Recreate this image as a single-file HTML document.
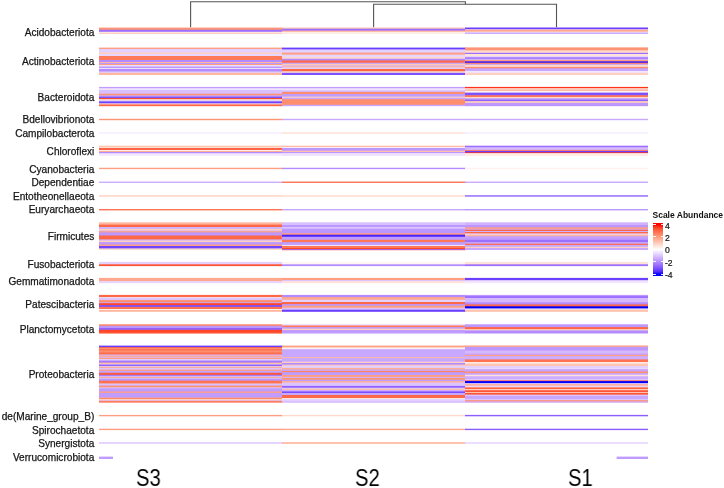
<!DOCTYPE html>
<html><head><meta charset="utf-8">
<style>
html,body{margin:0;padding:0;background:#fff;}
body{width:724px;height:488px;position:relative;overflow:hidden;font-family:"Liberation Sans",sans-serif;}
.b{position:absolute;}
#hm{position:absolute;left:0;top:0;}
.lab{position:absolute;left:0;width:94.3px;text-align:right;font-size:10.1px;line-height:12px;height:12px;color:#151515;-webkit-text-stroke:0.25px #151515;white-space:nowrap;}
.sl{position:absolute;will-change:transform;font-size:23.3px;line-height:28px;color:#000;transform-origin:0 0;transform:scaleX(0.87);white-space:nowrap;}
#lgt{position:absolute;left:652.5px;top:209px;font-size:8.5px;font-weight:bold;line-height:12px;color:#111;white-space:nowrap;}
#bar{position:absolute;left:653px;top:222.6px;width:10px;height:53.4px;background:linear-gradient(to bottom,#ff0000 3.18%,#ff4628 9.05%,#ff6846 14.91%,#ff8464 20.77%,#ff9e81 26.64%,#ffb7a0 32.50%,#ffcfbf 38.37%,#ffe7de 44.23%,#ffffff 50.09%,#eee2ff 55.96%,#dcc4ff 61.82%,#c8a8ff 67.68%,#b38bff 73.55%,#9b6fff 79.41%,#7e52ff 85.28%,#5932ff 91.14%,#0000ff 97.00%);}
.tk{position:absolute;height:1px;width:2.5px;background:#fff;opacity:0.9;}
.tl{position:absolute;left:665px;font-size:8.6px;line-height:10px;color:#111;-webkit-text-stroke:0.2px #111;white-space:nowrap;}
</style></head><body>
<svg style="position:absolute;left:0;top:0" width="724" height="30">
<g stroke="#555" stroke-width="1.1" fill="none">
<path d="M190.6 27.2 V1.7 H465.4 V4.3"/>
<path d="M373.6 27.2 V4.3 H556.5 V27.2"/>
</g>
</svg>
<svg id="hm" width="724" height="488" viewBox="0 0 724 488">
<g>
<rect x="99.00" y="27.60" width="183.60" height="3.20" fill="#ff9475"/>
<rect x="99.00" y="29.80" width="183.60" height="3.00" fill="#9b6fff"/>
<rect x="99.00" y="31.80" width="183.60" height="2.00" fill="#ffece5"/>
<rect x="99.00" y="32.80" width="183.60" height="1.20" fill="#ffcfbf"/>
<rect x="99.00" y="47.60" width="183.60" height="2.40" fill="#ff9e81"/>
<rect x="99.00" y="49.00" width="183.60" height="4.50" fill="#e3d0ff"/>
<rect x="99.00" y="52.50" width="183.60" height="2.50" fill="#ffcfbf"/>
<rect x="99.00" y="54.00" width="183.60" height="3.00" fill="#e7d6ff"/>
<rect x="99.00" y="56.00" width="183.60" height="5.00" fill="#ff7958"/>
<rect x="99.00" y="60.00" width="183.60" height="3.00" fill="#b38bff"/>
<rect x="99.00" y="62.00" width="183.60" height="2.00" fill="#ffb7a0"/>
<rect x="99.00" y="63.00" width="183.60" height="2.00" fill="#bc97ff"/>
<rect x="99.00" y="64.00" width="183.60" height="2.00" fill="#ff9e81"/>
<rect x="99.00" y="65.00" width="183.60" height="2.60" fill="#ebdcff"/>
<rect x="99.00" y="66.60" width="183.60" height="2.40" fill="#bc97ff"/>
<rect x="99.00" y="68.00" width="183.60" height="2.00" fill="#eee2ff"/>
<rect x="99.00" y="69.00" width="183.60" height="3.50" fill="#b38bff"/>
<rect x="99.00" y="71.50" width="183.60" height="2.30" fill="#e3d0ff"/>
<rect x="99.00" y="72.80" width="183.60" height="2.20" fill="#ffb7a0"/>
<rect x="99.00" y="86.90" width="183.60" height="2.30" fill="#c09cff"/>
<rect x="99.00" y="88.20" width="183.60" height="2.80" fill="#eee2ff"/>
<rect x="99.00" y="90.00" width="183.60" height="4.70" fill="#d8bfff"/>
<rect x="99.00" y="93.70" width="183.60" height="2.60" fill="#ff9475"/>
<rect x="99.00" y="95.30" width="183.60" height="2.30" fill="#c8a8ff"/>
<rect x="99.00" y="96.60" width="183.60" height="2.50" fill="#7e52ff"/>
<rect x="99.00" y="98.10" width="183.60" height="1.90" fill="#ff4628"/>
<rect x="99.00" y="99.00" width="183.60" height="2.30" fill="#ffcfbf"/>
<rect x="99.00" y="100.30" width="183.60" height="2.10" fill="#e3d0ff"/>
<rect x="99.00" y="101.40" width="183.60" height="2.90" fill="#6a3fff"/>
<rect x="99.00" y="103.30" width="183.60" height="2.10" fill="#ffded2"/>
<rect x="99.00" y="104.40" width="183.60" height="1.80" fill="#ff6846"/>
<rect x="99.00" y="118.80" width="183.60" height="1.40" fill="#ff9475"/>
<rect x="99.00" y="132.30" width="183.60" height="1.40" fill="#f5edff"/>
<rect x="99.00" y="145.70" width="183.60" height="2.50" fill="#ffc6b2"/>
<rect x="99.00" y="147.20" width="183.60" height="1.90" fill="#ffe2d8"/>
<rect x="99.00" y="148.10" width="183.60" height="2.80" fill="#ff5434"/>
<rect x="99.00" y="149.90" width="183.60" height="2.00" fill="#fff5f2"/>
<rect x="99.00" y="150.90" width="183.60" height="2.10" fill="#ffad93"/>
<rect x="99.00" y="152.00" width="183.60" height="2.10" fill="#b38bff"/>
<rect x="99.00" y="153.10" width="183.60" height="2.10" fill="#ebdcff"/>
<rect x="99.00" y="154.20" width="183.60" height="1.80" fill="#f5edff"/>
<rect x="99.00" y="167.75" width="183.60" height="1.40" fill="#ff9e81"/>
<rect x="99.00" y="181.55" width="183.60" height="1.40" fill="#ccadff"/>
<rect x="99.00" y="195.25" width="183.60" height="1.40" fill="#ffcfbf"/>
<rect x="99.00" y="209.00" width="183.60" height="1.40" fill="#ff7352"/>
<rect x="99.00" y="222.30" width="183.60" height="3.30" fill="#ffb7a0"/>
<rect x="99.00" y="224.60" width="183.60" height="3.40" fill="#ff6846"/>
<rect x="99.00" y="227.00" width="183.60" height="2.90" fill="#d0b3ff"/>
<rect x="99.00" y="228.90" width="183.60" height="2.60" fill="#ffcfbf"/>
<rect x="99.00" y="230.50" width="183.60" height="1.70" fill="#d0b3ff"/>
<rect x="99.00" y="231.20" width="183.60" height="2.20" fill="#ff9e81"/>
<rect x="99.00" y="232.40" width="183.60" height="4.10" fill="#bc97ff"/>
<rect x="99.00" y="235.50" width="183.60" height="4.90" fill="#ff6846"/>
<rect x="99.00" y="239.40" width="183.60" height="2.20" fill="#d0b3ff"/>
<rect x="99.00" y="240.60" width="183.60" height="2.50" fill="#ffcfbf"/>
<rect x="99.00" y="242.10" width="183.60" height="3.40" fill="#bc97ff"/>
<rect x="99.00" y="244.50" width="183.60" height="2.50" fill="#ff9e81"/>
<rect x="99.00" y="246.00" width="183.60" height="3.40" fill="#7145ff"/>
<rect x="99.00" y="248.40" width="183.60" height="1.60" fill="#ffded2"/>
<rect x="99.00" y="261.90" width="183.60" height="3.40" fill="#e3d0ff"/>
<rect x="99.00" y="264.30" width="183.60" height="1.80" fill="#ff5434"/>
<rect x="99.00" y="277.90" width="183.60" height="4.20" fill="#ffa88d"/>
<rect x="99.00" y="281.10" width="183.60" height="2.10" fill="#e7d6ff"/>
<rect x="99.00" y="294.90" width="183.60" height="3.20" fill="#ff6846"/>
<rect x="99.00" y="297.10" width="183.60" height="1.60" fill="#fff1eb"/>
<rect x="99.00" y="297.70" width="183.60" height="3.40" fill="#dcc4ff"/>
<rect x="99.00" y="300.10" width="183.60" height="3.20" fill="#ff8e6f"/>
<rect x="99.00" y="302.30" width="183.60" height="1.90" fill="#c8a8ff"/>
<rect x="99.00" y="303.20" width="183.60" height="2.90" fill="#ff4628"/>
<rect x="99.00" y="305.10" width="183.60" height="2.80" fill="#7e52ff"/>
<rect x="99.00" y="306.90" width="183.60" height="3.10" fill="#ff7352"/>
<rect x="99.00" y="309.00" width="183.60" height="2.00" fill="#fff1eb"/>
<rect x="99.00" y="310.00" width="183.60" height="1.80" fill="#ffb7a0"/>
<rect x="99.00" y="324.30" width="183.60" height="2.50" fill="#ff8464"/>
<rect x="99.00" y="325.80" width="183.60" height="3.20" fill="#bc97ff"/>
<rect x="99.00" y="328.00" width="183.60" height="2.80" fill="#9063ff"/>
<rect x="99.00" y="329.80" width="183.60" height="4.10" fill="#ff4628"/>
<rect x="99.00" y="332.90" width="183.60" height="0.60" fill="#ffe7de"/>
<rect x="99.00" y="345.60" width="183.60" height="2.50" fill="#6a3fff"/>
<rect x="99.00" y="347.10" width="183.60" height="2.10" fill="#ff6846"/>
<rect x="99.00" y="348.20" width="183.60" height="1.70" fill="#ff9e81"/>
<rect x="99.00" y="348.90" width="183.60" height="2.60" fill="#ff7352"/>
<rect x="99.00" y="350.50" width="183.60" height="3.00" fill="#ff8e6f"/>
<rect x="99.00" y="352.50" width="183.60" height="3.00" fill="#ff6d4c"/>
<rect x="99.00" y="354.50" width="183.60" height="2.10" fill="#d4b9ff"/>
<rect x="99.00" y="355.60" width="183.60" height="2.20" fill="#ffa88d"/>
<rect x="99.00" y="356.80" width="183.60" height="1.90" fill="#d4b9ff"/>
<rect x="99.00" y="357.70" width="183.60" height="2.30" fill="#ff9e81"/>
<rect x="99.00" y="359.00" width="183.60" height="1.90" fill="#e3d0ff"/>
<rect x="99.00" y="359.90" width="183.60" height="1.90" fill="#d0b3ff"/>
<rect x="99.00" y="360.80" width="183.60" height="2.80" fill="#a57aff"/>
<rect x="99.00" y="362.60" width="183.60" height="2.10" fill="#ffad93"/>
<rect x="99.00" y="363.70" width="183.60" height="1.70" fill="#fff1eb"/>
<rect x="99.00" y="364.40" width="183.60" height="2.60" fill="#9063ff"/>
<rect x="99.00" y="366.00" width="183.60" height="1.70" fill="#e3d0ff"/>
<rect x="99.00" y="366.70" width="183.60" height="2.10" fill="#ffa88d"/>
<rect x="99.00" y="367.80" width="183.60" height="2.80" fill="#dcc4ff"/>
<rect x="99.00" y="369.60" width="183.60" height="2.30" fill="#ff9e81"/>
<rect x="99.00" y="370.90" width="183.60" height="2.90" fill="#c4a2ff"/>
<rect x="99.00" y="372.80" width="183.60" height="3.00" fill="#ff5b3a"/>
<rect x="99.00" y="374.80" width="183.60" height="2.00" fill="#9b6fff"/>
<rect x="99.00" y="375.80" width="183.60" height="2.10" fill="#d4b9ff"/>
<rect x="99.00" y="376.90" width="183.60" height="2.00" fill="#ffa88d"/>
<rect x="99.00" y="377.90" width="183.60" height="1.70" fill="#e3d0ff"/>
<rect x="99.00" y="378.60" width="183.60" height="3.10" fill="#bc97ff"/>
<rect x="99.00" y="380.70" width="183.60" height="3.80" fill="#ff7352"/>
<rect x="99.00" y="383.50" width="183.60" height="2.00" fill="#e7d6ff"/>
<rect x="99.00" y="384.50" width="183.60" height="2.10" fill="#d0b3ff"/>
<rect x="99.00" y="385.60" width="183.60" height="2.70" fill="#ff9475"/>
<rect x="99.00" y="387.30" width="183.60" height="2.10" fill="#dcc4ff"/>
<rect x="99.00" y="388.40" width="183.60" height="4.10" fill="#c09cff"/>
<rect x="99.00" y="391.50" width="183.60" height="2.40" fill="#ff9e81"/>
<rect x="99.00" y="392.90" width="183.60" height="4.90" fill="#c09cff"/>
<rect x="99.00" y="397.60" width="183.60" height="2.30" fill="#ff8464"/>
<rect x="99.00" y="398.90" width="183.60" height="2.10" fill="#ffcfbf"/>
<rect x="99.00" y="400.00" width="183.60" height="1.80" fill="#e0caff"/>
<rect x="99.00" y="400.80" width="183.60" height="1.90" fill="#ff7e5e"/>
<rect x="99.00" y="414.90" width="183.60" height="1.40" fill="#ff9e81"/>
<rect x="99.00" y="428.70" width="183.60" height="1.40" fill="#ff9e81"/>
<rect x="99.00" y="442.30" width="183.60" height="1.40" fill="#dcc4ff"/>
<rect x="282.00" y="27.50" width="183.60" height="2.20" fill="#ffc6b2"/>
<rect x="282.00" y="28.70" width="183.60" height="2.90" fill="#9b6fff"/>
<rect x="282.00" y="30.60" width="183.60" height="2.20" fill="#ffb299"/>
<rect x="282.00" y="31.80" width="183.60" height="2.20" fill="#ffece5"/>
<rect x="282.00" y="47.60" width="183.60" height="2.80" fill="#6a3fff"/>
<rect x="282.00" y="49.40" width="183.60" height="4.20" fill="#e3d0ff"/>
<rect x="282.00" y="52.60" width="183.60" height="3.00" fill="#ff9e81"/>
<rect x="282.00" y="54.60" width="183.60" height="3.30" fill="#e7d6ff"/>
<rect x="282.00" y="56.90" width="183.60" height="2.80" fill="#ffd9cb"/>
<rect x="282.00" y="58.70" width="183.60" height="2.80" fill="#b38bff"/>
<rect x="282.00" y="60.50" width="183.60" height="3.20" fill="#ff6846"/>
<rect x="282.00" y="62.70" width="183.60" height="2.10" fill="#c4a2ff"/>
<rect x="282.00" y="63.80" width="183.60" height="2.70" fill="#ffcab8"/>
<rect x="282.00" y="65.50" width="183.60" height="1.80" fill="#c8a8ff"/>
<rect x="282.00" y="66.30" width="183.60" height="2.20" fill="#ffbca6"/>
<rect x="282.00" y="67.50" width="183.60" height="2.50" fill="#e3d0ff"/>
<rect x="282.00" y="69.00" width="183.60" height="3.30" fill="#ff6846"/>
<rect x="282.00" y="71.30" width="183.60" height="2.50" fill="#ffe2d8"/>
<rect x="282.00" y="72.80" width="183.60" height="2.20" fill="#7e52ff"/>
<rect x="282.00" y="86.90" width="183.60" height="2.30" fill="#c09cff"/>
<rect x="282.00" y="88.20" width="183.60" height="3.20" fill="#eee2ff"/>
<rect x="282.00" y="90.40" width="183.60" height="2.50" fill="#d4b9ff"/>
<rect x="282.00" y="91.90" width="183.60" height="3.10" fill="#ff8e6f"/>
<rect x="282.00" y="94.00" width="183.60" height="3.60" fill="#c09cff"/>
<rect x="282.00" y="96.60" width="183.60" height="2.20" fill="#ffcfbf"/>
<rect x="282.00" y="97.80" width="183.60" height="2.40" fill="#c8a8ff"/>
<rect x="282.00" y="99.20" width="183.60" height="6.60" fill="#ff8e6f"/>
<rect x="282.00" y="104.80" width="183.60" height="1.40" fill="#c8a8ff"/>
<rect x="282.00" y="118.80" width="183.60" height="1.40" fill="#c8a8ff"/>
<rect x="282.00" y="132.30" width="183.60" height="1.40" fill="#ffe2d8"/>
<rect x="282.00" y="145.70" width="183.60" height="2.30" fill="#ffbca6"/>
<rect x="282.00" y="147.00" width="183.60" height="1.90" fill="#fff5f2"/>
<rect x="282.00" y="147.90" width="183.60" height="3.80" fill="#bc97ff"/>
<rect x="282.00" y="150.70" width="183.60" height="2.30" fill="#ffc1ac"/>
<rect x="282.00" y="152.00" width="183.60" height="2.10" fill="#bc97ff"/>
<rect x="282.00" y="153.10" width="183.60" height="2.90" fill="#eee2ff"/>
<rect x="282.00" y="167.75" width="183.60" height="1.40" fill="#b38bff"/>
<rect x="282.00" y="181.55" width="183.60" height="1.40" fill="#ff7352"/>
<rect x="282.00" y="195.25" width="183.60" height="1.40" fill="#ffd9cb"/>
<rect x="282.00" y="209.00" width="183.60" height="1.40" fill="#c8a8ff"/>
<rect x="282.00" y="222.30" width="183.60" height="3.70" fill="#d8bfff"/>
<rect x="282.00" y="225.00" width="183.60" height="3.30" fill="#bc97ff"/>
<rect x="282.00" y="227.30" width="183.60" height="2.20" fill="#e7d6ff"/>
<rect x="282.00" y="228.50" width="183.60" height="5.70" fill="#bc97ff"/>
<rect x="282.00" y="233.20" width="183.60" height="2.50" fill="#ff9e81"/>
<rect x="282.00" y="234.70" width="183.60" height="3.00" fill="#4523ff"/>
<rect x="282.00" y="236.70" width="183.60" height="4.10" fill="#c09cff"/>
<rect x="282.00" y="239.80" width="183.60" height="3.30" fill="#ff7958"/>
<rect x="282.00" y="242.10" width="183.60" height="3.80" fill="#c09cff"/>
<rect x="282.00" y="244.90" width="183.60" height="2.10" fill="#eee2ff"/>
<rect x="282.00" y="246.00" width="183.60" height="3.00" fill="#ff7958"/>
<rect x="282.00" y="248.00" width="183.60" height="2.20" fill="#ff4628"/>
<rect x="282.00" y="249.20" width="183.60" height="0.80" fill="#9b6fff"/>
<rect x="282.00" y="261.90" width="183.60" height="3.40" fill="#fff5f2"/>
<rect x="282.00" y="264.30" width="183.60" height="1.80" fill="#b38bff"/>
<rect x="282.00" y="277.90" width="183.60" height="3.10" fill="#ff9e81"/>
<rect x="282.00" y="280.00" width="183.60" height="2.10" fill="#dcc4ff"/>
<rect x="282.00" y="281.10" width="183.60" height="2.10" fill="#ffe2d8"/>
<rect x="282.00" y="294.90" width="183.60" height="3.20" fill="#b38bff"/>
<rect x="282.00" y="297.10" width="183.60" height="3.70" fill="#ffa88d"/>
<rect x="282.00" y="299.80" width="183.60" height="3.20" fill="#e3d0ff"/>
<rect x="282.00" y="302.00" width="183.60" height="3.10" fill="#ff6846"/>
<rect x="282.00" y="304.10" width="183.60" height="2.60" fill="#bc97ff"/>
<rect x="282.00" y="305.70" width="183.60" height="3.10" fill="#ff9e81"/>
<rect x="282.00" y="307.80" width="183.60" height="2.90" fill="#dcc4ff"/>
<rect x="282.00" y="309.70" width="183.60" height="2.10" fill="#6a3fff"/>
<rect x="282.00" y="324.30" width="183.60" height="2.20" fill="#e7d6ff"/>
<rect x="282.00" y="325.50" width="183.60" height="2.60" fill="#ff7958"/>
<rect x="282.00" y="327.10" width="183.60" height="2.50" fill="#c09cff"/>
<rect x="282.00" y="328.60" width="183.60" height="2.50" fill="#ffcfbf"/>
<rect x="282.00" y="330.10" width="183.60" height="3.80" fill="#bc97ff"/>
<rect x="282.00" y="332.90" width="183.60" height="0.60" fill="#f5edff"/>
<rect x="282.00" y="345.60" width="183.60" height="2.60" fill="#ff9e81"/>
<rect x="282.00" y="347.20" width="183.60" height="2.00" fill="#ffded2"/>
<rect x="282.00" y="348.20" width="183.60" height="2.00" fill="#f8f3ff"/>
<rect x="282.00" y="349.20" width="183.60" height="8.90" fill="#c8a8ff"/>
<rect x="282.00" y="357.10" width="183.60" height="2.00" fill="#ffb7a0"/>
<rect x="282.00" y="358.10" width="183.60" height="4.60" fill="#c8a8ff"/>
<rect x="282.00" y="361.70" width="183.60" height="2.30" fill="#ffcfbf"/>
<rect x="282.00" y="363.00" width="183.60" height="2.60" fill="#b38bff"/>
<rect x="282.00" y="364.60" width="183.60" height="2.00" fill="#ffc6b2"/>
<rect x="282.00" y="365.60" width="183.60" height="3.30" fill="#e3d0ff"/>
<rect x="282.00" y="367.90" width="183.60" height="2.60" fill="#ffad93"/>
<rect x="282.00" y="369.50" width="183.60" height="2.40" fill="#c8a8ff"/>
<rect x="282.00" y="370.90" width="183.60" height="2.30" fill="#ff8464"/>
<rect x="282.00" y="372.20" width="183.60" height="3.80" fill="#c09cff"/>
<rect x="282.00" y="375.00" width="183.60" height="2.90" fill="#ff9e81"/>
<rect x="282.00" y="376.90" width="183.60" height="2.00" fill="#d0b3ff"/>
<rect x="282.00" y="377.90" width="183.60" height="2.80" fill="#ff9475"/>
<rect x="282.00" y="379.70" width="183.60" height="2.40" fill="#c09cff"/>
<rect x="282.00" y="381.10" width="183.60" height="2.50" fill="#ffb299"/>
<rect x="282.00" y="382.60" width="183.60" height="4.30" fill="#dcc4ff"/>
<rect x="282.00" y="385.90" width="183.60" height="2.80" fill="#9063ff"/>
<rect x="282.00" y="387.70" width="183.60" height="2.00" fill="#dcc4ff"/>
<rect x="282.00" y="388.70" width="183.60" height="2.40" fill="#ffc1ac"/>
<rect x="282.00" y="390.10" width="183.60" height="2.40" fill="#c8a8ff"/>
<rect x="282.00" y="391.50" width="183.60" height="2.40" fill="#7145ff"/>
<rect x="282.00" y="392.90" width="183.60" height="3.10" fill="#c8a8ff"/>
<rect x="282.00" y="395.00" width="183.60" height="4.10" fill="#ff6846"/>
<rect x="282.00" y="398.10" width="183.60" height="2.10" fill="#fff5f2"/>
<rect x="282.00" y="399.20" width="183.60" height="3.10" fill="#e3d0ff"/>
<rect x="282.00" y="401.30" width="183.60" height="1.40" fill="#d4b9ff"/>
<rect x="282.00" y="414.90" width="183.60" height="1.40" fill="#ffd9cb"/>
<rect x="282.00" y="428.70" width="183.60" height="1.40" fill="#ffa88d"/>
<rect x="282.00" y="442.30" width="183.60" height="1.40" fill="#ffa88d"/>
<rect x="465.00" y="27.50" width="183.00" height="2.60" fill="#6a3fff"/>
<rect x="465.00" y="29.10" width="183.00" height="1.60" fill="#dcc4ff"/>
<rect x="465.00" y="29.70" width="183.00" height="3.00" fill="#ffa88d"/>
<rect x="465.00" y="31.70" width="183.00" height="1.70" fill="#fff1eb"/>
<rect x="465.00" y="32.40" width="183.00" height="1.60" fill="#ccadff"/>
<rect x="465.00" y="47.40" width="183.00" height="3.90" fill="#ff9475"/>
<rect x="465.00" y="50.30" width="183.00" height="3.50" fill="#ffd9cb"/>
<rect x="465.00" y="52.80" width="183.00" height="2.20" fill="#9b6fff"/>
<rect x="465.00" y="54.00" width="183.00" height="3.20" fill="#ffe2d8"/>
<rect x="465.00" y="56.20" width="183.00" height="2.10" fill="#e3d0ff"/>
<rect x="465.00" y="57.30" width="183.00" height="2.40" fill="#9b6fff"/>
<rect x="465.00" y="58.70" width="183.00" height="2.20" fill="#d0b3ff"/>
<rect x="465.00" y="59.90" width="183.00" height="2.40" fill="#ff9e81"/>
<rect x="465.00" y="61.30" width="183.00" height="2.50" fill="#381bff"/>
<rect x="465.00" y="62.80" width="183.00" height="2.10" fill="#ff8464"/>
<rect x="465.00" y="63.90" width="183.00" height="1.70" fill="#b38bff"/>
<rect x="465.00" y="64.60" width="183.00" height="3.30" fill="#ffd9cb"/>
<rect x="465.00" y="66.90" width="183.00" height="2.40" fill="#ff8e6f"/>
<rect x="465.00" y="68.30" width="183.00" height="3.60" fill="#c4a2ff"/>
<rect x="465.00" y="70.90" width="183.00" height="2.90" fill="#f2e7ff"/>
<rect x="465.00" y="72.80" width="183.00" height="2.20" fill="#ffcfbf"/>
<rect x="465.00" y="86.90" width="183.00" height="2.30" fill="#ff341b"/>
<rect x="465.00" y="88.20" width="183.00" height="2.40" fill="#ffe7de"/>
<rect x="465.00" y="89.60" width="183.00" height="2.10" fill="#ff9e81"/>
<rect x="465.00" y="90.70" width="183.00" height="2.90" fill="#fff5f2"/>
<rect x="465.00" y="92.60" width="183.00" height="3.60" fill="#7e52ff"/>
<rect x="465.00" y="95.20" width="183.00" height="2.80" fill="#ff7958"/>
<rect x="465.00" y="97.00" width="183.00" height="2.10" fill="#ffd9cb"/>
<rect x="465.00" y="98.10" width="183.00" height="2.50" fill="#c8a8ff"/>
<rect x="465.00" y="99.60" width="183.00" height="2.50" fill="#9063ff"/>
<rect x="465.00" y="101.10" width="183.00" height="2.80" fill="#ffcfbf"/>
<rect x="465.00" y="102.90" width="183.00" height="3.30" fill="#bc97ff"/>
<rect x="465.00" y="118.80" width="183.00" height="1.40" fill="#c8a8ff"/>
<rect x="465.00" y="132.30" width="183.00" height="1.40" fill="#f5edff"/>
<rect x="465.00" y="145.70" width="183.00" height="2.50" fill="#9b6fff"/>
<rect x="465.00" y="147.20" width="183.00" height="3.70" fill="#d4b9ff"/>
<rect x="465.00" y="149.90" width="183.00" height="2.00" fill="#ff8464"/>
<rect x="465.00" y="150.90" width="183.00" height="2.40" fill="#6a3fff"/>
<rect x="465.00" y="152.30" width="183.00" height="1.80" fill="#ff341b"/>
<rect x="465.00" y="153.10" width="183.00" height="2.90" fill="#ffece5"/>
<rect x="465.00" y="167.75" width="183.00" height="1.40" fill="#fff1eb"/>
<rect x="465.00" y="181.55" width="183.00" height="1.40" fill="#c8a8ff"/>
<rect x="465.00" y="195.25" width="183.00" height="1.40" fill="#9063ff"/>
<rect x="465.00" y="209.00" width="183.00" height="1.40" fill="#bc97ff"/>
<rect x="465.00" y="222.30" width="183.00" height="3.70" fill="#d0b3ff"/>
<rect x="465.00" y="225.00" width="183.00" height="3.30" fill="#bc97ff"/>
<rect x="465.00" y="227.30" width="183.00" height="2.60" fill="#ff9e81"/>
<rect x="465.00" y="228.90" width="183.00" height="1.80" fill="#d0b3ff"/>
<rect x="465.00" y="229.70" width="183.00" height="2.20" fill="#ff5b3a"/>
<rect x="465.00" y="230.90" width="183.00" height="2.10" fill="#d0b3ff"/>
<rect x="465.00" y="232.00" width="183.00" height="2.40" fill="#ff6846"/>
<rect x="465.00" y="233.40" width="183.00" height="2.30" fill="#e7d6ff"/>
<rect x="465.00" y="234.70" width="183.00" height="2.60" fill="#ffb7a0"/>
<rect x="465.00" y="236.30" width="183.00" height="4.50" fill="#c09cff"/>
<rect x="465.00" y="239.80" width="183.00" height="3.30" fill="#9b6fff"/>
<rect x="465.00" y="242.10" width="183.00" height="2.60" fill="#c8a8ff"/>
<rect x="465.00" y="243.70" width="183.00" height="2.20" fill="#ff6846"/>
<rect x="465.00" y="244.90" width="183.00" height="2.90" fill="#c8a8ff"/>
<rect x="465.00" y="246.80" width="183.00" height="2.20" fill="#ffcfbf"/>
<rect x="465.00" y="248.00" width="183.00" height="2.00" fill="#c8a8ff"/>
<rect x="465.00" y="261.90" width="183.00" height="3.40" fill="#ffe2d8"/>
<rect x="465.00" y="264.30" width="183.00" height="1.80" fill="#9b6fff"/>
<rect x="465.00" y="277.90" width="183.00" height="3.10" fill="#6a3fff"/>
<rect x="465.00" y="280.00" width="183.00" height="2.10" fill="#dcc4ff"/>
<rect x="465.00" y="281.10" width="183.00" height="2.10" fill="#f2e7ff"/>
<rect x="465.00" y="294.90" width="183.00" height="2.20" fill="#bc97ff"/>
<rect x="465.00" y="296.10" width="183.00" height="2.90" fill="#9b6fff"/>
<rect x="465.00" y="298.00" width="183.00" height="5.30" fill="#d4b9ff"/>
<rect x="465.00" y="302.30" width="183.00" height="3.10" fill="#b38bff"/>
<rect x="465.00" y="304.40" width="183.00" height="2.90" fill="#ff6846"/>
<rect x="465.00" y="306.30" width="183.00" height="3.10" fill="#0000ff"/>
<rect x="465.00" y="308.40" width="183.00" height="2.30" fill="#eee2ff"/>
<rect x="465.00" y="309.70" width="183.00" height="2.10" fill="#ffc1ac"/>
<rect x="465.00" y="324.30" width="183.00" height="3.80" fill="#bc97ff"/>
<rect x="465.00" y="327.10" width="183.00" height="3.10" fill="#ff6846"/>
<rect x="465.00" y="329.20" width="183.00" height="2.20" fill="#ffded2"/>
<rect x="465.00" y="330.40" width="183.00" height="3.10" fill="#b38bff"/>
<rect x="465.00" y="345.40" width="183.00" height="2.50" fill="#ffa88d"/>
<rect x="465.00" y="346.90" width="183.00" height="4.60" fill="#bc97ff"/>
<rect x="465.00" y="350.50" width="183.00" height="4.00" fill="#d4b9ff"/>
<rect x="465.00" y="353.50" width="183.00" height="2.30" fill="#c4a2ff"/>
<rect x="465.00" y="354.80" width="183.00" height="2.30" fill="#ff9e81"/>
<rect x="465.00" y="356.10" width="183.00" height="4.30" fill="#ccadff"/>
<rect x="465.00" y="359.40" width="183.00" height="3.60" fill="#ff7352"/>
<rect x="465.00" y="362.00" width="183.00" height="2.60" fill="#ffece5"/>
<rect x="465.00" y="363.60" width="183.00" height="3.40" fill="#ffc6b2"/>
<rect x="465.00" y="366.00" width="183.00" height="2.90" fill="#e3d0ff"/>
<rect x="465.00" y="367.90" width="183.00" height="2.30" fill="#ebdcff"/>
<rect x="465.00" y="369.20" width="183.00" height="3.30" fill="#c4a2ff"/>
<rect x="465.00" y="371.50" width="183.00" height="2.60" fill="#ff8e6f"/>
<rect x="465.00" y="373.10" width="183.00" height="2.70" fill="#c8a8ff"/>
<rect x="465.00" y="374.80" width="183.00" height="2.40" fill="#ffe2d8"/>
<rect x="465.00" y="376.20" width="183.00" height="4.10" fill="#ccadff"/>
<rect x="465.00" y="379.30" width="183.00" height="2.10" fill="#e3d0ff"/>
<rect x="465.00" y="380.40" width="183.00" height="1.70" fill="#ff5434"/>
<rect x="465.00" y="381.10" width="183.00" height="3.00" fill="#0000ff"/>
<rect x="465.00" y="383.10" width="183.00" height="2.10" fill="#e3d0ff"/>
<rect x="465.00" y="384.20" width="183.00" height="2.40" fill="#ffa88d"/>
<rect x="465.00" y="385.60" width="183.00" height="2.40" fill="#e7d6ff"/>
<rect x="465.00" y="387.00" width="183.00" height="1.70" fill="#ffa88d"/>
<rect x="465.00" y="387.70" width="183.00" height="2.40" fill="#ff6140"/>
<rect x="465.00" y="389.10" width="183.00" height="2.20" fill="#ffd9cb"/>
<rect x="465.00" y="390.30" width="183.00" height="2.60" fill="#ff4628"/>
<rect x="465.00" y="391.90" width="183.00" height="2.00" fill="#ffcfbf"/>
<rect x="465.00" y="392.90" width="183.00" height="2.70" fill="#ff5434"/>
<rect x="465.00" y="394.60" width="183.00" height="2.40" fill="#dcc4ff"/>
<rect x="465.00" y="396.00" width="183.00" height="4.50" fill="#c8a8ff"/>
<rect x="465.00" y="399.50" width="183.00" height="1.70" fill="#eee2ff"/>
<rect x="465.00" y="400.20" width="183.00" height="2.10" fill="#ff8464"/>
<rect x="465.00" y="401.30" width="183.00" height="1.40" fill="#d0b3ff"/>
<rect x="465.00" y="414.90" width="183.00" height="1.40" fill="#8a5dff"/>
<rect x="465.00" y="428.70" width="183.00" height="1.40" fill="#8a5dff"/>
<rect x="465.00" y="442.30" width="183.00" height="1.40" fill="#e3d0ff"/>
<rect x="99.00" y="456.60" width="14.00" height="2.40" fill="#c09cff"/>
<rect x="616.60" y="456.60" width="31.40" height="2.40" fill="#c09cff"/>
</g>
</svg>
<div id="labs" style="position:absolute;left:0;top:0;width:724px;height:488px;will-change:transform">
<div class="lab" style="top:26.50px">Acidobacteriota</div>
<div class="lab" style="top:56.30px">Actinobacteriota</div>
<div class="lab" style="top:91.80px">Bacteroidota</div>
<div class="lab" style="top:114.00px">Bdellovibrionota</div>
<div class="lab" style="top:128.00px">Campilobacterota</div>
<div class="lab" style="top:146.00px">Chloroflexi</div>
<div class="lab" style="top:164.10px">Cyanobacteria</div>
<div class="lab" style="top:177.20px">Dependentiae</div>
<div class="lab" style="top:190.70px">Entotheonellaeota</div>
<div class="lab" style="top:204.20px">Euryarchaeota</div>
<div class="lab" style="top:230.70px">Firmicutes</div>
<div class="lab" style="top:258.90px">Fusobacteriota</div>
<div class="lab" style="top:275.60px">Gemmatimonadota</div>
<div class="lab" style="top:298.90px">Patescibacteria</div>
<div class="lab" style="top:323.50px">Planctomycetota</div>
<div class="lab" style="top:368.70px">Proteobacteria</div>
<div class="lab" style="top:410.50px">de(Marine_group_B)</div>
<div class="lab" style="top:424.60px">Spirochaetota</div>
<div class="lab" style="top:438.10px">Synergistota</div>
<div class="lab" style="top:452.10px">Verrucomicrobiota</div>
<div id="lgt">Scale Abundance</div>
<div class="tl" style="top:220.50px;left:665.0px">4</div>
<div class="tl" style="top:233.00px;left:665.0px">2</div>
<div class="tl" style="top:245.20px;left:665.0px">0</div>
<div class="tl" style="top:257.70px;left:665.0px">-2</div>
<div class="tl" style="top:269.70px;left:665.0px">-4</div>
</div>
<div id="bar"></div>
<div class="tk" style="left:653px;top:223.80px"></div><div class="tk" style="left:660.5px;top:223.80px"></div>
<div class="tk" style="left:653px;top:236.32px"></div><div class="tk" style="left:660.5px;top:236.32px"></div>
<div class="tk" style="left:653px;top:248.85px"></div><div class="tk" style="left:660.5px;top:248.85px"></div>
<div class="tk" style="left:653px;top:261.38px"></div><div class="tk" style="left:660.5px;top:261.38px"></div>
<div class="tk" style="left:653px;top:273.90px"></div><div class="tk" style="left:660.5px;top:273.90px"></div>
<div class="sl" style="left:135.6px;top:464.1px">S3</div>
<div class="sl" style="left:355px;top:464.1px">S2</div>
<div class="sl" style="left:568px;top:464.1px">S1</div>
</body></html>
